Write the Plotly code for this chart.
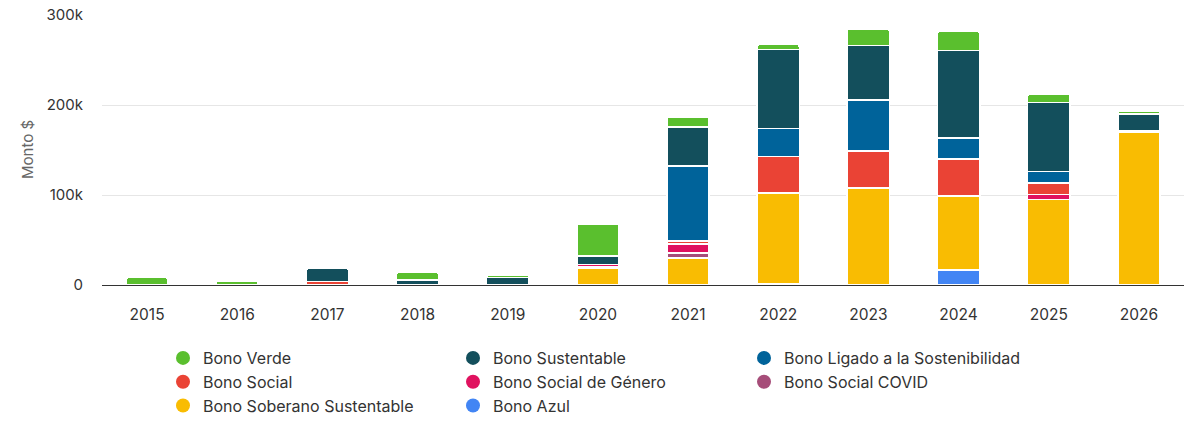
import plotly.graph_objects as go

years = ["2015", "2016", "2017", "2018", "2019", "2020", "2021", "2022", "2023", "2024", "2025", "2026"]

# values in $ (thousands * 1000)
bono_azul        = [0, 0, 0, 0, 0, 0, 0, 1000, 0, 17000, 0, 0]
bono_soberano    = [0, 0, 0, 0, 0, 19200, 30000, 101000, 107800, 82200, 95200, 169700]
bono_covid       = [0, 0, 0, 0, 0, 800, 5800, 0, 0, 0, 0, 0]
bono_genero      = [0, 0, 0, 0, 0, 2900, 9900, 0, 0, 0, 5300, 0]
bono_social      = [0, 0, 4100, 0, 0, 0, 3000, 40700, 41100, 41100, 13000, 0]
bono_ligado      = [0, 0, 0, 0, 0, 0, 83200, 31000, 56400, 22800, 12800, 2000]
bono_sustentable = [0, 0, 14300, 5400, 8500, 9200, 43500, 87800, 61000, 97600, 76700, 18500]
bono_verde       = [8400, 4400, 0, 8600, 2900, 35800, 11400, 6000, 18400, 21500, 9500, 3400]

y_ticks = [0, 100000, 200000, 300000]
y_tick_labels = ["0", "100k", "200k", "300k"]

# stacking order bottom -> top
stack = [
    ("Bono Azul", bono_azul, "#4285F4"),
    ("Bono Soberano Sustentable", bono_soberano, "#F9BC02"),
    ("Bono Social COVID", bono_covid, "#A64D79"),
    ("Bono Social de Género", bono_genero, "#E0125F"),
    ("Bono Social", bono_social, "#EA4335"),
    ("Bono Ligado a la Sostenibilidad", bono_ligado, "#00639A"),
    ("Bono Sustentable", bono_sustentable, "#134F5C"),
    ("Bono Verde", bono_verde, "#5ABF2E"),
]
colors = {n: c for n, _, c in stack}

# legend columns
legend_cols = {
    "legend": ["Bono Verde", "Bono Social", "Bono Soberano Sustentable"],
    "legend2": ["Bono Sustentable", "Bono Social de Género", "Bono Azul"],
    "legend3": ["Bono Ligado a la Sostenibilidad", "Bono Social COVID"],
}

fig = go.Figure()
for name, vals, col in stack:
    fig.add_trace(go.Bar(
        x=years, y=[v if v else None for v in vals], name=name,
        marker=dict(color=col, line=dict(color="#ffffff", width=1.6)),
        legendgroup=name, showlegend=False,
    ))

for lg, names in legend_cols.items():
    for n in names:
        fig.add_trace(go.Scatter(
            x=[None], y=[None], mode="markers", name=n, legend=lg,
            legendgroup=n, showlegend=True,
            marker=dict(color=colors[n], size=14, symbol="circle"),
        ))

font_family = "Inter, Roboto, sans-serif"
legend_top = 1 - 341 / 433
legend_common = dict(
    orientation="v", yanchor="top", xanchor="left",
    xref="container", yref="container", y=legend_top,
    font=dict(family=font_family, size=16, color="#333333"),
    tracegroupgap=0, bgcolor="rgba(0,0,0,0)", itemclick=False,
)
fig.update_layout(
    width=1200, height=433, autosize=False,
    margin=dict(l=102, r=16, t=15, b=147.5, pad=0, autoexpand=False),
    paper_bgcolor="#ffffff", plot_bgcolor="#ffffff",
    barmode="stack", bargap=0.53, barcornerradius=3,
    font=dict(family=font_family, size=15, color="#333333"),
    legend=dict(x=163 / 1200, **legend_common),
    legend2=dict(x=453 / 1200, **legend_common),
    legend3=dict(x=744 / 1200, **legend_common),
    xaxis=dict(
        type="category", showgrid=False, showline=True, linecolor="#333333",
        linewidth=1, ticks="", ticklabelstandoff=15, automargin=False,
        tickfont=dict(family=font_family, size=15.5, color="#333333"),
    ),
    yaxis=dict(
        range=[0, 300000], tickvals=y_ticks, ticktext=y_tick_labels,
        showgrid=True, gridcolor="#e6e6e6", gridwidth=1, zeroline=False,
        ticks="", ticklabelstandoff=18, automargin=False,
        tickfont=dict(family=font_family, size=15, color="#333333"),
    ),
    annotations=[dict(
        text="Monto $", textangle=-90, showarrow=False,
        xref="paper", yref="paper", x=-75 / 1082, y=0.5,
        xanchor="center", yanchor="middle",
        font=dict(family=font_family, size=15, color="#666666"),
    )],
)

fig.write_html("out.html")
